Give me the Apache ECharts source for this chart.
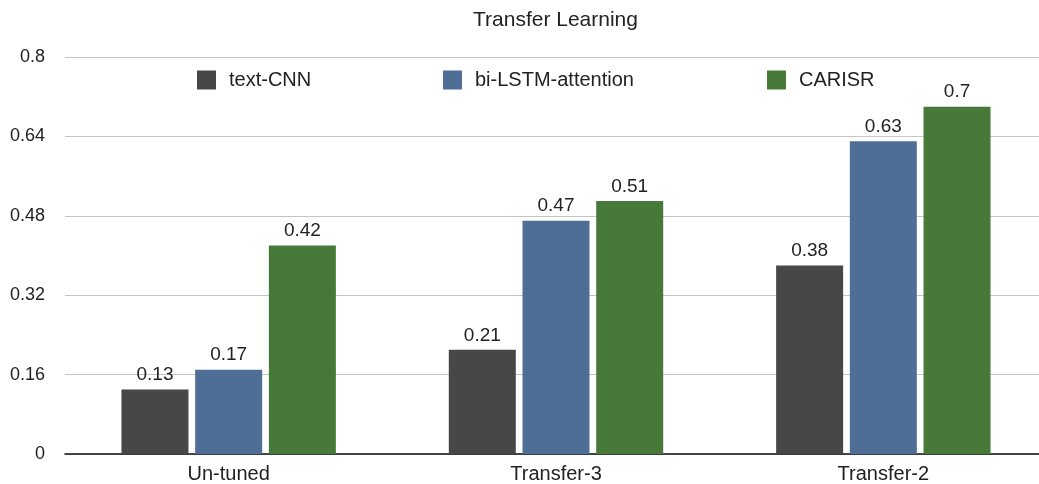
<!DOCTYPE html>
<html>
<head>
<meta charset="utf-8">
<script src="https://cdn.jsdelivr.net/npm/echarts@6/dist/echarts.min.js"></script>
<style>
  html, body { margin: 0; padding: 0; background: #fff; overflow: hidden; }
  #chart { width: 1060px; height: 484px; }
</style>
</head>
<body>
<div id="chart"></div>
<script>
const categories = ['Un-tuned', 'Transfer-3', 'Transfer-2'];
const seriesNames = ['text-CNN', 'bi-LSTM-attention', 'CARISR'];
const textCnn = [0.13, 0.21, 0.38];
const biLstmAttention = [0.17, 0.47, 0.63];
const carisr = [0.42, 0.51, 0.7];
const yTicks = [0, 0.16, 0.32, 0.48, 0.64, 0.8];

const colors = ['#474747', '#4f6e96', '#477a39'];
const font = '"Liberation Sans", Arial, Helvetica, sans-serif';
const values = [textCnn, biLstmAttention, carisr];
const legendLeft = [197, 443, 767];

// The canvas is slightly wider than the window so the last category band
// can run past the right edge, as the plot area does here.
const chart = echarts.init(document.getElementById('chart'), null, { renderer: 'canvas' });

chart.setOption({
  animation: false,
  backgroundColor: '#ffffff',
  textStyle: { fontFamily: font },
  title: {
    text: 'Transfer Learning',
    left: 473,
    top: 10,
    padding: 0,
    textStyle: { fontFamily: font, fontSize: 21, fontWeight: 'normal', color: '#222' }
  },
  legend: seriesNames.map((name, i) => ({
    data: [name],
    left: legendLeft[i],
    top: 70,
    padding: 0,
    itemWidth: 19,
    itemHeight: 19,
    itemGap: 0,
    icon: 'rect',
    textStyle: { fontFamily: font, fontSize: 20, color: '#222', padding: [0, 0, 0, 8] }
  })),
  grid: { left: 65, top: 57, width: 982, bottom: 30, containLabel: false },
  xAxis: {
    type: 'category',
    data: categories,
    axisLine: { lineStyle: { color: '#111', width: 1.5 } },
    axisTick: { show: false },
    axisLabel: { fontFamily: font, fontSize: 20, color: '#222', margin: 10 }
  },
  yAxis: {
    type: 'value',
    min: yTicks[0],
    max: yTicks[yTicks.length - 1],
    interval: yTicks[1] - yTicks[0],
    axisLine: { show: false },
    axisTick: { show: false },
    axisLabel: {
      fontFamily: font, fontSize: 18, color: '#222', margin: 20,
      formatter: v => String(+v.toFixed(2))
    },
    splitLine: { lineStyle: { color: '#c4c4c4', width: 1 } }
  },
  series: seriesNames.map((name, i) => ({
    name: name,
    type: 'bar',
    data: values[i],
    barGap: '10%',
    barCategoryGap: '34.5%',
    itemStyle: { color: colors[i] },
    label: {
      show: true,
      position: 'top',
      distance: 5,
      fontFamily: font,
      fontSize: 19,
      color: '#222',
      formatter: p => String(p.value)
    }
  }))
});
</script>
</body>
</html>
